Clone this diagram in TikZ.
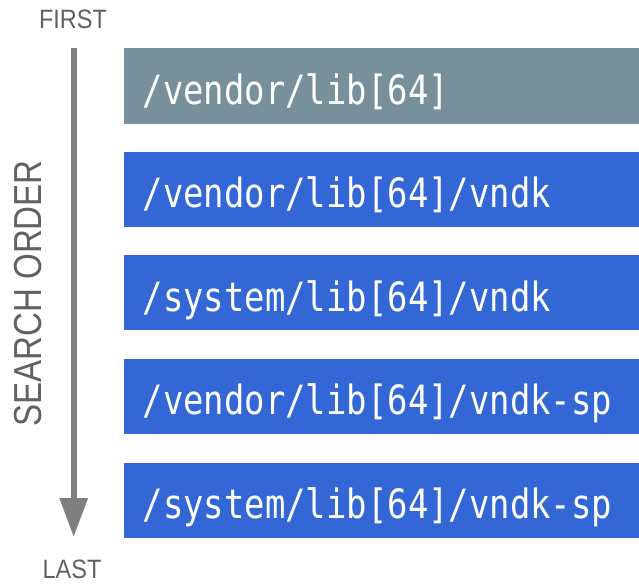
\documentclass[tikz,border=0pt]{standalone}
\usepackage{fontspec}
\setmainfont{Liberation Sans}
\newfontfamily\pathmono{DejaVu Sans Mono}
\usetikzlibrary{calc,arrows.meta}
\definecolor{boxblue}{HTML}{3367D6}
\definecolor{boxgray}{HTML}{78909C}
\definecolor{labelgray}{HTML}{616161}
\definecolor{arrowgray}{HTML}{7F7F7F}
\newcommand{\vstretch}[2]{\scalebox{1}[#1]{#2}}
\tikzset{
  pathbox/.style={anchor=north west, minimum width=515pt, minimum height=75pt, inner sep=0pt, draw=none},
  pathtext/.style={anchor=base west, inner sep=0pt, text=white, font=\pathmono\fontsize{33.9}{33.9}\selectfont},
  sidelabel/.style={inner sep=0pt, text=labelgray, font=\fontsize{23.5}{23.5}\selectfont},
  orderarrow/.style={draw=arrowgray, line width=6pt, -{Triangle[length=39pt,width=27pt,fill=arrowgray]}}
}
\begin{document}
\begin{tikzpicture}[x=1pt,y=1pt]
\useasboundingbox (0,0) rectangle (639,-583);
% boxes
\node[pathbox, fill=boxgray] (b1) at (124,-48.3) {};
\node[pathbox, fill=boxblue] (b2) at (124,-151.3) {};
\node[pathbox, fill=boxblue] (b3) at (124,-255) {};
\node[pathbox, fill=boxblue] (b4) at (124,-358.5) {};
\node[pathbox, fill=boxblue] (b5) at (124,-462.3) {};
% texts
\node[pathtext] (t1) at ($(b1.north west)+(18.5,-56)$) {\vstretch{1.19}{/vendor/lib[64]}};
\node[pathtext] (t2) at ($(b2.north west)+(18.5,-56)$) {\vstretch{1.19}{/vendor/lib[64]/vndk}};
\node[pathtext] (t3) at ($(b3.north west)+(18.5,-56)$) {\vstretch{1.19}{/system/lib[64]/vndk}};
\node[pathtext] (t4) at ($(b4.north west)+(18.5,-56)$) {\vstretch{1.19}{/vendor/lib[64]/vndk-sp}};
\node[pathtext] (t5) at ($(b5.north west)+(18.5,-56)$) {\vstretch{1.19}{/system/lib[64]/vndk-sp}};
% side labels
\node[sidelabel, anchor=base] (first) at (73,-29) {\vstretch{1.13}{FIRST}};
\node[sidelabel, anchor=base] (last) at (72,-578.3) {\vstretch{1.13}{LAST}};
\node[sidelabel, rotate=90, anchor=base, font=\fontsize{33.1}{33.1}\selectfont] (order) at (41.7,-293.5) {\vstretch{1.18}{SEARCH ORDER}};
% arrow
\coordinate (atop) at (73.7,-48.3);
\coordinate (abot) at (73.7,-537);
\draw[orderarrow] (atop) -- (abot);
\end{tikzpicture}
\end{document}
